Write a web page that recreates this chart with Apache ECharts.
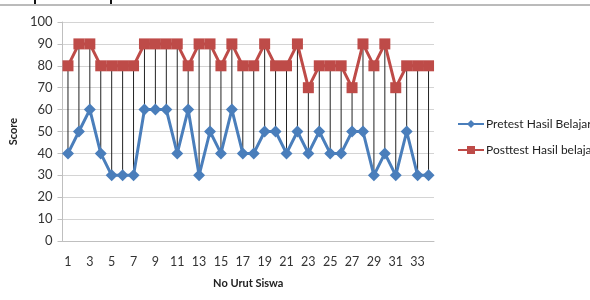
<!DOCTYPE html>
<html>
<head>
<meta charset="utf-8">
<script src="https://cdn.jsdelivr.net/npm/echarts@6/dist/echarts.min.js"></script>
<style>
  html, body { margin: 0; padding: 0; background: #fff; }
  #chart { width: 590px; height: 300px; }
</style>
</head>
<body>
<div id="chart"></div>
<script>
// nomor urut siswa 1..34
const siswa = ['1','2','3','4','5','6','7','8','9','10','11','12','13','14','15','16','17',
  '18','19','20','21','22','23','24','25','26','27','28','29','30','31','32','33','34'];
const pretest = [40, 50, 60, 40, 30, 30, 30, 60, 60, 60, 40, 60, 30, 50, 40, 60, 40,
  40, 50, 50, 40, 50, 40, 50, 40, 40, 50, 50, 30, 40, 30, 50, 30, 30];
const posttest = [80, 90, 90, 80, 80, 80, 80, 90, 90, 90, 90, 80, 90, 90, 80, 90, 80,
  80, 90, 80, 80, 90, 70, 80, 80, 80, 70, 90, 80, 90, 70, 80, 80, 80];

const chart = echarts.init(document.getElementById('chart'));
const font = 'Lato';

chart.setOption({
  animation: false,
  textStyle: { fontFamily: font },
  grid: { left: 61, right: 156, top: 22, bottom: 59 },
  graphic: [
    { type: 'line', shape: { x1: 0, y1: 5, x2: 590, y2: 5 }, style: { stroke: '#777', lineWidth: 1 } },
    { type: 'rect', shape: { x: 34, y: 0, width: 2, height: 4 }, style: { fill: '#111' } },
    { type: 'rect', shape: { x: 110, y: 0, width: 2, height: 4 }, style: { fill: '#111' } }
  ],
  legend: {
    orient: 'vertical',
    left: 457,
    top: 118,
    padding: 0,
    itemWidth: 26,
    itemHeight: 10,
    itemGap: 14,
    textStyle: { fontFamily: font, fontSize: 12, color: '#222', padding: [0, 0, 0, -3] },
    data: ['Pretest Hasil Belajar', 'Posttest Hasil belajar']
  },
  xAxis: {
    type: 'category',
    data: siswa,
    name: 'No Urut Siswa',
    nameLocation: 'middle',
    nameGap: 37,
    nameTextStyle: { fontFamily: font, fontWeight: 'bold', fontSize: 11, color: '#222' },
    axisLine: { lineStyle: { color: '#bfbfbf' } },
    axisTick: { show: false },
    axisLabel: { interval: 1, margin: 14, fontSize: 12.5, color: '#333' },
    splitLine: { show: false }
  },
  yAxis: {
    type: 'value',
    min: 0,
    max: 100,
    interval: 10,
    name: 'Score',
    nameLocation: 'middle',
    nameGap: 37,
    nameRotate: 90,
    nameTextStyle: { fontFamily: font, fontWeight: 'bold', fontSize: 11, color: '#222' },
    axisLine: { show: true, lineStyle: { color: '#bfbfbf' } },
    axisTick: { show: true, length: 5, lineStyle: { color: '#bfbfbf' } },
    axisLabel: { margin: 10, fontSize: 13, color: '#333' },
    splitLine: { lineStyle: { color: '#d4d4d4' } }
  },
  series: [
    {
      // garis high-low antara pretest dan posttest
      type: 'custom',
      silent: true,
      z: 1,
      data: siswa.map((s, i) => [i, pretest[i], posttest[i]]),
      encode: { x: 0, y: [1, 2] },
      renderItem: function (params, api) {
        const a = api.coord([api.value(0), api.value(1)]);
        const b = api.coord([api.value(0), api.value(2)]);
        return {
          type: 'line',
          shape: { x1: a[0], y1: a[1], x2: b[0], y2: b[1] },
          style: { stroke: '#222', lineWidth: 1 }
        };
      }
    },
    {
      name: 'Pretest Hasil Belajar',
      type: 'line',
      z: 3,
      data: pretest,
      symbol: 'diamond',
      symbolSize: 12,
      showAllSymbol: true,
      lineStyle: { color: '#4a7ebb', width: 3 },
      itemStyle: { color: '#4a7ebb' }
    },
    {
      name: 'Posttest Hasil belajar',
      type: 'line',
      z: 3,
      data: posttest,
      symbol: 'rect',
      symbolSize: 11,
      showAllSymbol: true,
      lineStyle: { color: '#be4b48', width: 3 },
      itemStyle: { color: '#be4b48' }
    }
  ]
});
</script>
</body>
</html>
